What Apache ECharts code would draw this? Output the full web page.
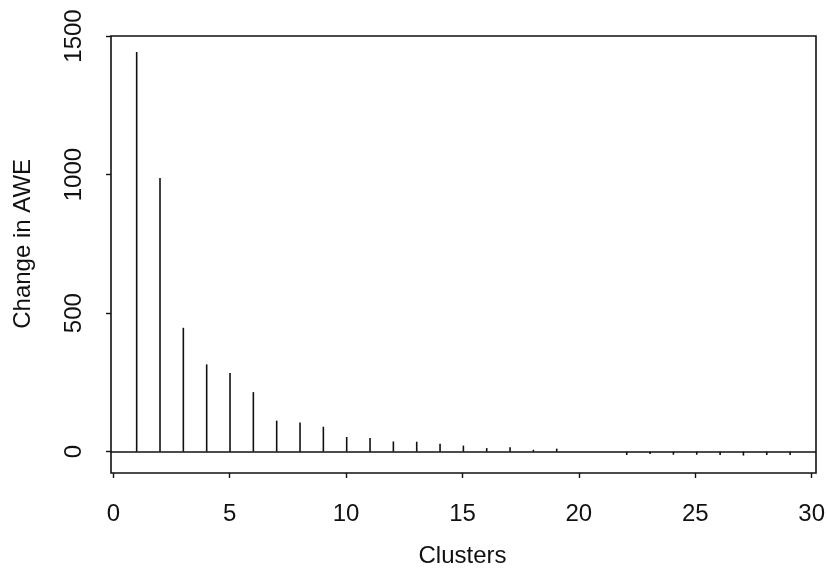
<!DOCTYPE html>
<html>
<head>
<meta charset="utf-8">
<script src="https://cdn.jsdelivr.net/npm/echarts@6/dist/echarts.min.js"></script>
<style>
  html, body { margin: 0; padding: 0; background: #fff; }
  #chart { width: 828px; height: 575px; }
</style>
</head>
<body>
<div id="chart"></div>
<script>
// number of clusters and the change in AWE
const clusters = [1, 2, 3, 4, 5, 6, 7, 8, 9, 10, 11, 12, 13, 14, 15, 16, 17, 18, 19, 20, 21, 22, 23, 24, 25, 26, 27, 28, 29];
const changeAWE = [1442, 988, 447, 315, 284, 215, 112, 105, 90, 53, 49, 37, 36, 29, 22, 13, 16, 7, 11, 0, 0, -12, -8, -11, -11, -12, -14, -12, -12];
const xTicks = [0, 30, 5];      // min, max, step
const yTicks = [0, 1500, 500];

const ink = '#111';
const font = '"Liberation Sans", Arial, Helvetica, sans-serif';

const chart = echarts.init(document.getElementById('chart'));

const hidden = { show: false };

chart.setOption({
    animation: false,
    backgroundColor: '#fff',
    grid: [
        // plot frame + data
        { left: 111, right: 12, top: 36, bottom: 102, show: true, borderColor: ink, borderWidth: 1.6, backgroundColor: 'transparent' },
        // x ticks (0..30)
        { left: 113.3, right: 14.7, top: 36, bottom: 102 },
        // y ticks (0..1500)
        { left: 111, right: 12, top: 36, bottom: 123.3 }
    ],
    xAxis: [
        { gridIndex: 0, type: 'value', min: -0.1, max: 30.11, axisLine: hidden, axisTick: hidden, axisLabel: hidden, splitLine: hidden },
        {
            gridIndex: 1, type: 'value', min: xTicks[0], max: xTicks[1], interval: xTicks[2],
            name: 'Clusters', nameLocation: 'middle', nameGap: 71,
            nameTextStyle: { color: ink, fontSize: 24, fontFamily: font },
            axisLine: hidden,
            axisTick: { show: true, length: 5, lineStyle: { color: ink, width: 1.4 } },
            axisLabel: { color: ink, fontSize: 24, fontFamily: font, margin: 29 },
            splitLine: hidden
        },
        { gridIndex: 2, type: 'value', show: false }
    ],
    yAxis: [
        { gridIndex: 0, type: 'value', min: -76.9, max: 1500, axisLine: hidden, axisTick: hidden, axisLabel: hidden, splitLine: hidden },
        { gridIndex: 1, type: 'value', show: false },
        {
            gridIndex: 2, type: 'value', min: yTicks[0], max: yTicks[1], interval: yTicks[2],
            name: 'Change in AWE', nameLocation: 'middle', nameGap: 76, nameRotate: 90,
            nameTextStyle: { color: ink, fontSize: 24, fontFamily: font },
            axisLine: hidden,
            axisTick: { show: true, length: 5, lineStyle: { color: ink, width: 1.4 } },
            axisLabel: { color: ink, fontSize: 24, fontFamily: font, rotate: 90, margin: 25, formatter: v => String(v) },
            splitLine: hidden
        }
    ],
    series: [{
        type: 'bar',
        xAxisIndex: 0,
        yAxisIndex: 0,
        barWidth: 1.6,
        itemStyle: { color: ink },
        data: clusters.map((c, i) => [c, changeAWE[i]]),
        markLine: {
            silent: true,
            symbol: 'none',
            label: { show: false },
            lineStyle: { color: ink, width: 1.6, type: 'solid' },
            data: [{ yAxis: 0 }]
        }
    }]
});
</script>
</body>
</html>
